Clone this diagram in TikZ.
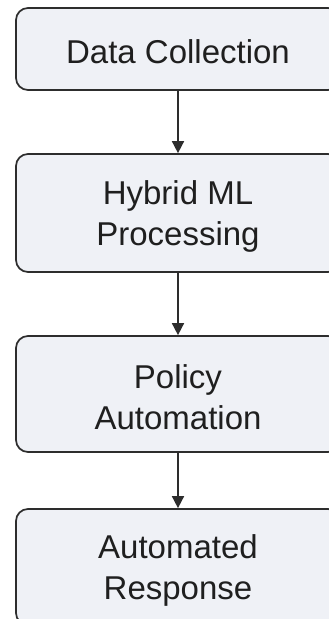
\documentclass[tikz,border=0pt]{standalone}
\usepackage{fontspec}
\setmainfont{Liberation Sans}
\usetikzlibrary{arrows.meta}
\definecolor{boxfill}{RGB}{239,241,246}
\definecolor{boxline}{RGB}{45,45,45}
\begin{document}
\begin{tikzpicture}[x=1pt,y=1pt,
  stage/.style={draw=boxline, line width=1.7pt, fill=boxfill, rounded corners=12pt,
    minimum width=324pt, inner sep=0pt},
  caption/.style={align=center, inner sep=0pt,
    font=\fontsize{33}{41}\selectfont, text=black!88},
  flow/.style={draw=boxline, line width=1.6pt, -{Triangle[length=12pt,width=12pt]}}]
\useasboundingbox (0,0) rectangle (329,-619);
\clip (0,0) rectangle (329,-619);
\fill[white] (0,0) rectangle (329,-619);
\node[stage, minimum height=82pt] (a) at (178,-49) {};
\node[stage, minimum height=118pt] (b) at (178,-213) {};
\node[stage, minimum height=116pt] (c) at (178,-394) {};
\node[stage, minimum height=116pt] (d) at (178,-567) {};
\node[caption] (la) at ([yshift=-3pt]a.center) {Data Collection};
\node[caption] (lb) at ([yshift=-3pt]b.center) {Hybrid ML\\Processing};
\node[caption] (lc) at ([yshift=-3pt]c.center) {Policy\\Automation};
\node[caption] (ld) at ([yshift=-3pt]d.center) {Automated\\Response};
\draw[flow] (a) -- (b);
\draw[flow] (b) -- (c);
\draw[flow] (c) -- (d);
\end{tikzpicture}
\end{document}
